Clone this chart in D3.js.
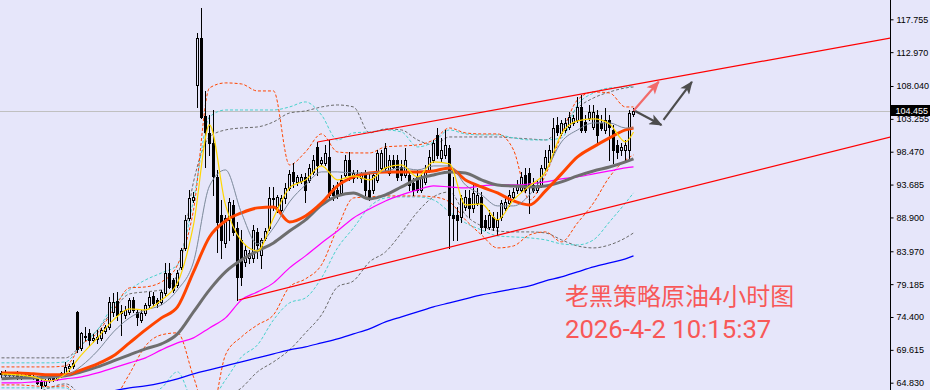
<!DOCTYPE html>
<html><head><meta charset="utf-8">
<script src="https://cdn.jsdelivr.net/npm/d3@7"></script>
<style>
html,body{margin:0;padding:0;background:#e6e6fa;}
svg{display:block;}
</style></head><body>
<svg id="chart" width="930" height="390"></svg>
<script>
// ---------- DATA (prices) ----------
const candleOpen = [66.12,66.26,65.97,66.12,66.12,65.53,65.83,65.97,65.83,65.68,
64.95,64.51,65.24,65.53,65.39,65.83,66.26,66.99,67.28,75.14,
69.90,71.65,72.09,71.07,71.21,71.36,72.38,72.96,75.14,76.74,
75.00,74.71,75.14,76.89,75.14,73.98,75.00,76.16,77.47,76.89,
76.60,77.91,80.82,79.80,79.07,81.69,84.46,88.83,91.45,108.19,
115.04,103.68,101.21,99.75,94.80,89.27,85.19,88.54,90.72,87.37,
85.63,82.42,83.00,83.00,86.79,83.44,85.92,87.37,91.74,90.43,
89.99,91.74,93.20,95.53,94.07,94.22,94.80,94.36,95.53,99.17,
96.84,96.84,97.71,93.20,92.91,92.47,95.09,97.27,94.65,95.09,
94.65,95.09,92.91,92.91,94.36,96.11,96.11,95.38,97.27,97.27,
96.25,95.09,95.09,93.93,94.80,92.91,94.07,95.82,97.27,100.92,
97.57,98.00,99.02,89.27,89.27,88.98,90.43,91.74,90.29,91.01,
91.89,88.54,87.52,88.98,87.52,88.98,90.29,91.01,91.89,92.91,
92.91,95.09,95.38,93.63,92.91,93.63,96.11,96.98,98.44,102.37,
101.21,101.64,102.08,102.66,103.10,104.99,102.81,103.39,102.08,103.82,
102.66,101.64,103.10,101.64,99.46,98.73,98.73,98.73,103.97];
const candleHigh = [66.55,66.70,66.41,66.41,66.55,66.12,66.26,66.26,66.12,65.83,
65.39,65.39,65.68,65.83,65.97,66.41,67.86,67.57,68.15,75.29,
72.23,72.96,72.67,71.94,72.52,72.81,73.25,77.33,77.91,78.06,
76.16,76.02,77.18,77.33,75.43,75.43,76.45,78.06,78.06,77.18,
78.35,82.28,82.28,80.09,81.26,84.46,89.27,92.91,92.61,115.76,
119.40,107.32,103.82,104.55,95.82,91.45,89.27,91.74,91.45,88.25,
87.08,84.90,84.17,87.81,87.37,85.92,87.37,93.34,93.34,92.18,
92.18,93.93,95.82,96.84,95.09,95.24,95.38,96.69,98.00,99.90,
97.71,99.46,100.19,93.63,94.07,95.09,98.00,98.44,95.82,95.82,
95.53,95.82,95.53,95.53,98.73,98.73,99.75,98.00,98.00,98.00,
97.27,99.02,95.53,94.65,95.82,95.09,96.55,98.73,100.19,101.93,
100.48,101.64,99.46,94.80,90.43,92.18,92.91,92.91,93.63,93.20,
92.61,89.27,89.99,89.70,89.70,91.45,91.74,92.91,93.20,94.36,
95.53,96.11,96.11,94.65,94.36,96.55,98.73,99.46,103.39,103.53,
103.10,103.39,104.26,103.82,106.44,106.74,103.82,105.28,105.28,104.55,
103.82,104.84,103.82,102.37,100.19,99.75,100.19,104.55,104.84];
const candleLow = [65.68,65.83,65.68,65.83,65.39,65.39,65.53,65.68,65.39,64.66,
64.08,64.37,64.95,65.10,65.24,65.68,66.12,66.55,66.99,69.32,
69.61,71.07,70.34,70.77,70.63,71.07,72.09,72.67,74.56,73.98,
71.80,74.27,74.85,75.14,73.25,73.69,74.71,75.87,76.16,75.87,
76.31,77.62,78.64,78.06,78.78,81.40,84.17,88.54,91.16,104.99,
103.39,96.25,98.00,92.18,83.88,83.00,84.61,85.63,86.35,76.89,
79.07,81.84,82.28,82.42,83.00,81.55,85.63,87.08,89.99,89.70,
89.56,91.01,92.91,93.34,93.63,93.93,91.16,94.07,95.24,95.09,
96.55,96.55,91.74,91.45,91.74,92.18,94.80,94.36,94.07,94.65,
94.07,92.18,91.45,92.47,94.07,95.82,95.82,95.09,96.11,94.36,
94.36,94.80,92.91,92.18,92.61,92.61,93.78,95.53,96.98,97.57,
96.98,97.57,84.46,85.63,85.63,88.25,89.99,88.98,89.70,90.72,
86.64,87.08,87.23,87.08,86.35,88.54,89.99,90.58,91.45,92.47,
92.61,92.61,89.56,92.61,92.61,93.34,95.82,96.69,98.00,100.92,
100.92,101.35,101.79,102.37,102.81,101.35,101.35,103.10,101.79,99.75,
101.64,101.21,97.27,96.84,97.57,98.00,97.27,97.57,103.68];
const candleClose = [66.26,65.97,66.12,65.97,65.53,65.83,65.97,65.83,65.68,64.81,
64.51,65.24,65.53,65.39,65.83,66.26,67.13,67.28,67.72,69.76,
72.09,71.50,71.07,71.36,71.50,72.52,72.96,76.60,76.60,74.71,
75.29,75.43,76.89,75.43,74.42,75.00,76.16,77.33,76.45,76.45,
78.06,80.82,78.78,78.35,80.82,84.17,88.54,91.74,91.89,115.04,
103.53,101.35,99.75,94.95,88.25,85.63,88.83,91.16,86.79,80.24,
80.24,84.17,83.73,87.08,84.90,85.63,86.93,91.74,91.60,91.89,
91.74,93.20,95.24,94.22,94.80,94.80,92.91,96.11,97.27,96.55,
97.27,98.29,92.18,92.18,92.18,94.36,97.27,95.09,95.38,95.24,
95.24,92.91,91.74,95.09,98.29,98.29,99.02,97.27,96.25,94.80,
95.09,97.27,93.63,92.91,92.91,94.80,95.82,97.71,99.75,98.00,
98.73,99.46,89.27,88.83,88.54,91.74,91.89,90.29,92.47,92.18,
87.52,87.52,89.27,87.52,88.54,91.01,91.16,92.18,92.61,93.63,
94.80,92.91,93.34,92.91,93.63,96.11,97.71,98.73,101.93,101.35,
102.66,102.66,103.53,103.39,104.99,101.64,101.64,104.26,104.26,100.92,
101.93,103.10,102.08,98.73,98.44,99.17,99.46,104.11,104.455];

// bar numbers at which the indicator lines were read
const sampleIdx = [0,4,8,12,16,20,24,28,32,36,40,44,48,52,56,60,64,68,72,76,80,84,88,92,96,100,104,108,112,116,120,124,128,132,136,140,144,148,152,156,158];

const maYellow = [66.12,65.97,65.68,65.10,66.12,68.88,71.36,73.98,75.58,75.43,76.89,79.37,87.81,102.37,90.72,85.48,84.02,88.83,93.20,94.36,96.40,94.36,94.95,94.36,96.11,96.55,94.80,96.98,96.69,90.72,90.87,88.54,91.45,93.49,95.53,101.06,102.95,103.24,102.52,99.90,101.35];
const maThinGray = [65.83,65.83,65.68,65.53,65.83,67.28,69.46,72.23,74.27,75.43,76.16,78.35,82.42,93.49,95.82,89.56,85.05,87.37,91.16,93.63,95.53,95.53,95.38,95.38,95.67,96.11,95.82,96.40,96.40,93.63,92.18,90.58,90.58,92.18,95.53,99.90,101.64,102.66,102.66,101.93,101.93];
const maOrange = [66.26,66.26,66.12,65.97,65.97,66.70,67.57,68.74,70.63,72.52,74.27,75.87,80.97,86.06,88.39,89.56,90.29,90.43,88.25,89.12,91.01,93.49,94.80,95.38,95.53,95.53,95.53,95.67,96.11,94.36,93.34,92.47,91.30,90.72,92.76,95.24,97.71,99.17,100.48,101.64,101.93];
const maThickGray = [65.39,65.53,65.53,65.68,65.83,66.41,67.13,68.01,68.88,69.76,70.48,71.94,75.14,78.35,80.97,82.71,84.02,85.19,86.93,88.54,90.72,92.03,92.47,91.60,92.18,93.34,94.51,95.09,95.53,95.38,94.36,93.63,93.49,93.34,93.49,94.07,94.95,95.67,96.25,96.98,97.42];
const maMagenta = [64.81,64.81,64.95,65.10,65.39,65.68,66.26,66.99,67.72,68.45,69.61,70.63,71.36,72.81,74.27,76.89,78.06,79.37,81.55,83.30,85.19,86.93,88.83,90.14,91.30,92.18,92.91,93.49,93.34,93.20,93.49,93.63,93.63,93.78,94.07,94.51,94.80,95.24,95.67,96.11,96.25];
const maBlue = [null,null,null,null,null,null,null,63.64,64.08,64.37,64.81,65.39,66.12,66.70,67.28,67.86,68.45,69.03,69.61,70.05,70.63,71.21,71.94,72.67,73.69,74.42,75.14,75.87,76.45,77.04,77.62,78.06,78.49,78.93,79.66,80.24,80.97,81.69,82.28,82.86,83.30];

const bandOrangeUpper = [67.13,67.13,67.13,67.13,67.28,70.34,72.09,75.43,78.64,78.78,79.51,81.99,89.99,107.76,108.49,108.34,107.32,107.32,96.55,98.44,101.06,98.44,98.29,98.29,99.17,99.31,99.46,100.19,101.93,101.21,101.06,101.06,98.73,91.45,95.09,100.92,106.01,107.17,107.03,104.99,104.99];
const bandOrangeLower = [64.51,64.51,64.37,64.22,64.37,61.60,60.87,62.33,66.12,70.19,71.80,72.09,65.68,59.42,68.88,71.50,73.25,74.71,78.78,79.95,81.99,87.37,91.74,91.89,92.03,92.03,92.03,91.89,91.16,88.54,86.35,84.46,84.75,86.35,86.79,85.34,88.10,91.01,94.80,97.27,98.00];
const bandCyanUpper = [67.72,67.72,67.72,67.72,67.86,70.34,72.52,76.16,78.35,79.80,80.82,81.99,91.45,103.53,104.55,104.55,104.55,104.55,104.99,105.72,103.82,100.19,101.21,101.35,101.64,101.35,99.17,99.90,101.64,101.06,100.92,100.92,100.48,100.19,100.19,100.48,105.28,107.03,107.76,107.90,108.05];
const bandCyanLower = [64.08,64.08,64.08,64.08,64.08,62.33,62.33,62.33,62.33,63.06,64.08,66.41,62.33,62.33,65.24,68.59,70.34,73.98,76.45,77.18,80.09,84.46,87.37,90.43,91.74,91.89,91.89,91.45,89.70,88.10,87.08,86.21,86.06,85.92,85.63,85.05,84.90,85.63,88.25,91.01,92.47];
const bandGrayUpper = [68.45,68.45,68.45,68.45,68.45,70.34,72.52,75.43,77.76,78.06,78.35,80.53,94.07,100.62,101.64,101.93,102.08,102.81,104.11,104.41,104.99,105.28,104.99,101.21,101.79,101.64,100.19,99.46,100.62,100.62,100.62,100.62,100.48,100.33,100.19,102.08,104.84,106.30,107.17,107.76,107.90];
const bandGrayLower = [null,null,63.06,64.08,64.66,62.62,null,null,null,null,null,null,null,null,62.62,64.08,66.41,67.86,69.61,72.09,74.71,78.78,79.66,82.42,83.88,86.64,89.70,91.89,92.61,89.27,87.66,86.93,86.79,86.79,86.64,85.63,84.75,84.46,84.90,85.92,86.64];

// trend channel (two anchor points each: bar number, price)
const channelUpperIdx = [79, 222.25];
const channelUpperPrice = [99.89, 115.04];
const channelLowerIdx = [59.25, 222.25];
const channelLowerPrice = [76.88, 100.62];

// projection arrows
const arrowFromIdx = [158.0, 158.4, 165.5];
const arrowFromPrice = [104.45, 104.40, 103.10];
const arrowToIdx = [164.3, 165.0, 172.6];
const arrowToPrice = [108.65, 102.37, 108.65];

const currentPrice = 104.455;
const tickLabels = ["117.755","112.970","108.040","103.255","98.470","93.685","88.900","83.970","79.185","74.400","69.615","64.830"];
const titleText = "老黑策略原油4小时图";
const stampText = "2026-4-2 10:15:37";

// ---------- DRAWING ----------
const W = 930, H = 390, plotRight = 890;
const svg = d3.select('#chart');
svg.append('rect').attr('width', W).attr('height', H).attr('fill', '#e6e6fa');

const x = d3.scaleLinear().domain([0, 158]).range([1.5, 633.5]);
const y = d3.scaleLinear().domain([64.830, 117.755]).range([382.7, 19.3]);

const defs = svg.append('defs');
defs.append('clipPath').attr('id', 'clip').append('rect')
  .attr('x', 0).attr('y', 0).attr('width', plotRight).attr('height', H);
const arrowColors = ['#f26a6a', '#4d4d4d', '#4d4d4d'];
arrowColors.forEach((c, k) => {
  defs.append('marker').attr('id', 'ah' + k)
    .attr('viewBox', '0 0 12 10').attr('refX', 11).attr('refY', 5)
    .attr('markerWidth', 14).attr('markerHeight', 11)
    .attr('markerUnits', 'userSpaceOnUse').attr('orient', 'auto')
    .append('path').attr('d', 'M0,0 L12,5 L0,10 L3,5 Z').attr('fill', c);
});

const plot = svg.append('g').attr('clip-path', 'url(#clip)');

// current price line
const cpY = Math.round(y(currentPrice)) + 0.5;
plot.append('line').attr('x1', 0).attr('x2', plotRight).attr('y1', cpY).attr('y2', cpY)
  .attr('stroke', '#c0c0c0').attr('stroke-width', 1);

function drawLine(values, color, width, dash) {
  const gen = d3.line()
    .defined(d => d != null)
    .x((d, k) => x(sampleIdx[k]))
    .y(d => y(d))
    .curve(d3.curveMonotoneX);
  const p = plot.append('path').attr('d', gen(values))
    .attr('fill', 'none').attr('stroke', color).attr('stroke-width', width)
    .attr('stroke-linejoin', 'round');
  if (dash) p.attr('stroke-dasharray', dash);
  return p;
}

// envelope / band lines
drawLine(bandGrayUpper, '#6a6a6a', 1, '3,2');
drawLine(bandGrayLower, '#6a6a6a', 1, '3,2');
drawLine(bandCyanUpper, '#48d1cc', 1, '3,2');
drawLine(bandCyanLower, '#48d1cc', 1, '3,2');
drawLine(bandOrangeUpper, '#ff4500', 1, '3,2');
drawLine(bandOrangeLower, '#ff4500', 1, '3,2');

// candles
const cg = plot.append('g').attr('shape-rendering', 'crispEdges');
candleOpen.forEach((o, i) => {
  const c = candleClose[i], h = candleHigh[i], l = candleLow[i];
  const cx = x(i);
  cg.append('line').attr('x1', cx).attr('x2', cx)
    .attr('y1', Math.round(y(h))).attr('y2', Math.round(y(l)) + 1)
    .attr('stroke', '#000').attr('stroke-width', 1);
  const top = Math.round(y(Math.max(o, c)));
  const bot = Math.round(y(Math.min(o, c)));
  if (c >= o) {
    cg.append('rect').attr('x', cx - 1).attr('y', top + 0.5)
      .attr('width', 2).attr('height', Math.max(bot - top, 1))
      .attr('fill', '#e6e6fa').attr('stroke', '#000').attr('stroke-width', 1);
  } else {
    cg.append('rect').attr('x', cx - 1.5).attr('y', top)
      .attr('width', 3).attr('height', Math.max(bot - top + 1, 1))
      .attr('fill', '#000');
  }
});

// moving averages
drawLine(maBlue, '#0000ff', 1.2);
drawLine(maMagenta, '#ff00ff', 1.2);
drawLine(maThickGray, '#6e6e6e', 3);
drawLine(maOrange, '#ff4500', 3);
drawLine(maThinGray, '#7a8899', 1);
drawLine(maYellow, '#ffd700', 1.2);

// channel lines
[[channelUpperIdx, channelUpperPrice], [channelLowerIdx, channelLowerPrice]].forEach(([ix, pr]) => {
  plot.append('line')
    .attr('x1', x(ix[0])).attr('y1', y(pr[0]))
    .attr('x2', x(ix[1])).attr('y2', y(pr[1]))
    .attr('stroke', '#ff0000').attr('stroke-width', 1.2);
});

// arrows
arrowFromIdx.forEach((fi, k) => {
  plot.append('line')
    .attr('x1', x(fi)).attr('y1', y(arrowFromPrice[k]))
    .attr('x2', x(arrowToIdx[k])).attr('y2', y(arrowToPrice[k]))
    .attr('stroke', arrowColors[k]).attr('stroke-width', 2.2)
    .attr('marker-end', 'url(#ah' + k + ')');
});

// annotation text
svg.append('text').attr('fill', '#f85858')
  .attr('font-family', '"Noto Sans CJK SC", sans-serif').attr('font-size', 24)
  .attr('x', 565).attr('y', 305).text(titleText);
svg.append('text').attr('fill', '#f85858')
  .attr('font-family', 'Roboto, "Noto Sans", sans-serif').attr('font-size', 25.7)
  .attr('x', 565).attr('y', 338).text(stampText);

// price axis
const tickValues = tickLabels.map(Number);
const axis = d3.axisRight(y).tickValues(tickValues).tickFormat((d, k) => tickLabels[k])
  .tickSize(3).tickPadding(3);
const ag = svg.append('g').attr('transform', `translate(${plotRight + 0.5},0)`).call(axis);
ag.select('.domain').remove();
ag.selectAll('text').attr('font-family', '"Liberation Sans", Arial, sans-serif').attr('font-size', 9).attr('fill', '#000');
ag.selectAll('line').attr('stroke', '#000');
svg.append('line').attr('x1', plotRight + 0.5).attr('x2', plotRight + 0.5).attr('y1', 0).attr('y2', H)
  .attr('stroke', '#000').attr('stroke-width', 1);

// current price tag (drawn over the neighbouring tick label, as in the terminal)
const cpyRaw = y(currentPrice);
svg.append('rect').attr('x', plotRight + 1).attr('y', Math.round(cpyRaw) - 6)
  .attr('width', W - plotRight - 1).attr('height', 11).attr('fill', '#000');
svg.append('text').attr('x', plotRight + 5.5).attr('y', cpyRaw).attr('dy', '0.32em')
  .attr('font-family', '"Liberation Sans", Arial, sans-serif').attr('font-size', 9)
  .attr('fill', '#fff').text(currentPrice.toFixed(3));
</script>
</body></html>
